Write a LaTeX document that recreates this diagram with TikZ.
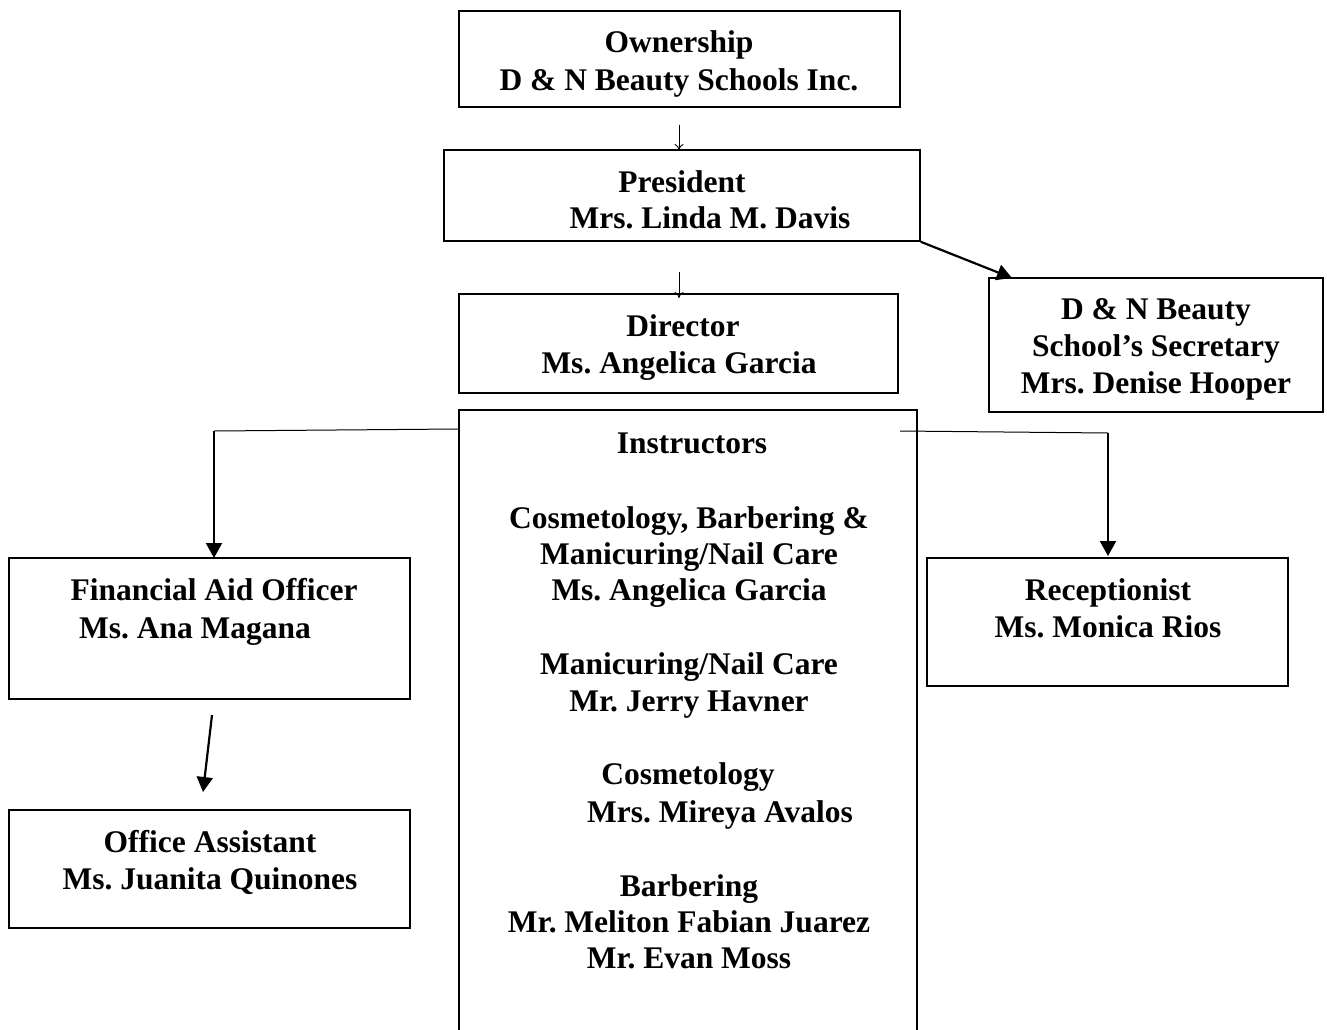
\documentclass[tikz,border=0pt]{standalone}
\usepackage{fontspec}
\setmainfont{Liberation Serif}
\usetikzlibrary{arrows.meta}
\frenchspacing
\tikzset{
  box/.style={draw=black, line width=1.6pt, rectangle, inner sep=0pt},
  txt/.style={font=\fontsize{31.5}{36.5}\selectfont\bfseries, inner sep=0pt, anchor=base},
  thin arrow/.style={draw=black, line width=0.9pt, -{To[length=6pt,width=9pt]}},
  thick arrow/.style={draw=black, line width=2.2pt, -{Triangle[length=15pt,width=16pt]}},
  plain line/.style={draw=black, line width=1pt}
}
\newcommand{\tline}[4]{\node[txt] (#1) at (#2,-#3) {#4};}
\begin{document}
\begin{tikzpicture}[x=1pt,y=1pt]
\useasboundingbox (0,0) rectangle (1327,-1030);
\clip (0,0) rectangle (1327,-1030);
\fill[white] (0,0) rectangle (1327,-1030);
% boxes
\node[box, minimum width=441pt, minimum height=96pt] (own) at (679.5,-59) {};
\node[box, minimum width=476pt, minimum height=91pt] (pres) at (682,-195.5) {};
\node[box, minimum width=439pt, minimum height=99pt] (dir) at (678.5,-343.5) {};
\node[box, minimum width=334pt, minimum height=134pt] (sec) at (1156,-345) {};
\node[box, minimum width=458pt, minimum height=640pt] (inst) at (688,-730) {};
\node[box, minimum width=401pt, minimum height=141pt] (fin) at (209.5,-628.5) {};
\node[box, minimum width=401pt, minimum height=118pt] (off) at (209.5,-869) {};
\node[box, minimum width=361pt, minimum height=128pt] (rec) at (1107.5,-622) {};
% texts
\tline{t1}{679}{53}{Ownership}
\tline{t2}{679}{91}{D \& N Beauty Schools Inc.}
\tline{t3}{682}{192}{President}
\tline{t4}{710}{228}{Mrs. Linda M. Davis}
\tline{t5}{683}{336}{Director}
\tline{t6}{679}{373}{Ms. Angelica Garcia}
\tline{t7}{1156}{319}{D \& N Beauty}
\tline{t8}{1156}{356}{School’s Secretary}
\tline{t9}{1156}{393}{Mrs. Denise Hooper}
\tline{t10}{692}{453}{Instructors}
\tline{t11}{689}{528}{Cosmetology, Barbering \&}
\tline{t12}{689}{564}{Manicuring/Nail Care}
\tline{t13}{689}{600}{Ms. Angelica Garcia}
\tline{t14}{689}{674}{Manicuring/Nail Care}
\tline{t15}{689}{711}{Mr. Jerry Havner}
\tline{t16}{688}{784}{Cosmetology}
\tline{t17}{720}{822}{Mrs. Mireya Avalos}
\tline{t18}{689}{896}{Barbering}
\tline{t19}{689}{932}{Mr. Meliton Fabian Juarez}
\tline{t20}{689}{968}{Mr. Evan Moss}
\tline{t21}{214}{600}{Financial Aid Officer}
\tline{t22}{195}{638}{Ms. Ana Magana}
\tline{t23}{210}{852}{Office Assistant}
\tline{t24}{210}{889}{Ms. Juanita Quinones}
\tline{t25}{1108}{600}{Receptionist}
\tline{t26}{1108}{637}{Ms. Monica Rios}
% connector coordinates
\coordinate (a1s) at (679,-125);
\coordinate (a1e) at (679,-150);
\coordinate (a2s) at (679,-272);
\coordinate (a2e) at (679,-298);
\coordinate (ps) at (pres.south east);
\coordinate (se) at (1012,-278);
\coordinate (lj) at (214,-431);
\coordinate (le) at (214,-558);
\coordinate (rs) at (900,-431);
\coordinate (rj) at (1108,-433);
\coordinate (re) at (1108,-556);
\coordinate (fs) at (212,-715);
\coordinate (fe) at (203,-792);
% connectors
\draw[thin arrow] (a1s) -- (a1e);
\draw[thin arrow] (a2s) -- (a2e);
\draw[thick arrow] (ps) -- (se);
\draw[plain line] (inst.north west |- 0,-429) -- (lj);
\draw[thick arrow] (lj) -- (le);
\draw[plain line] (rs) -- (rj);
\draw[thick arrow] (rj) -- (re);
\draw[thick arrow] (fs) -- (fe);
\end{tikzpicture}
\end{document}
